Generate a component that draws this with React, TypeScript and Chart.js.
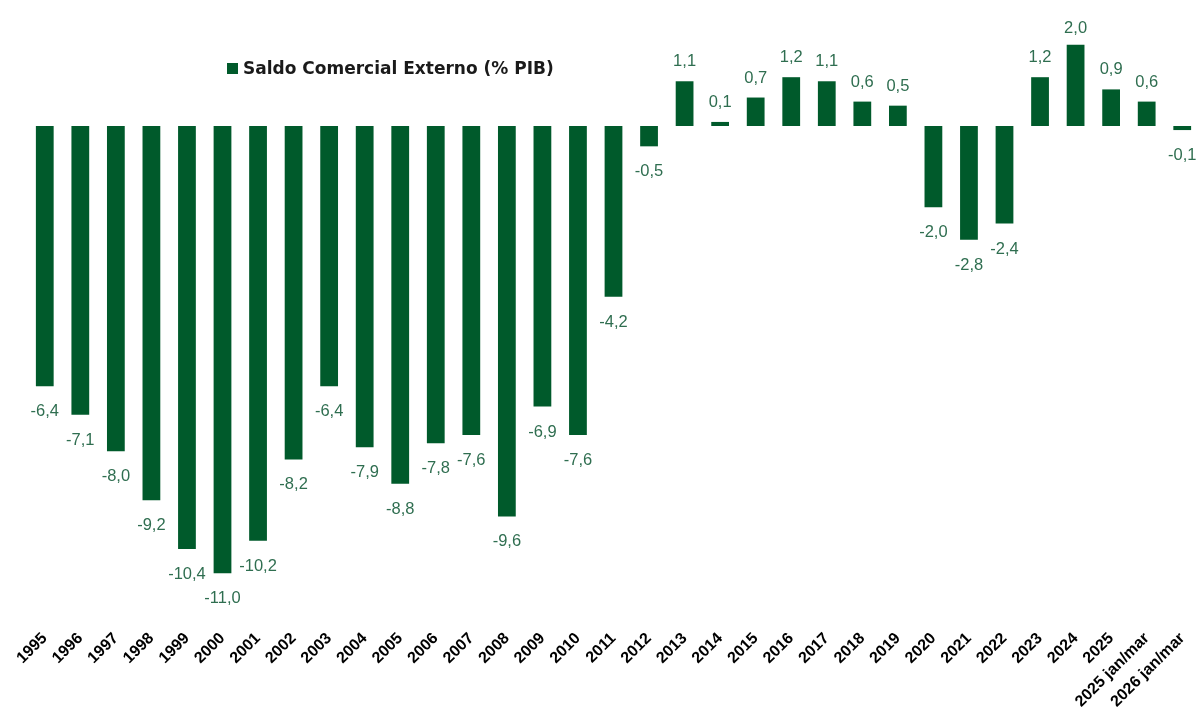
import React, { useEffect, useRef } from "react";
import { Chart, registerables } from "chart.js";

Chart.register(...registerables);

const categories: string[] = [
  "1995", "1996", "1997", "1998", "1999", "2000", "2001", "2002", "2003", "2004",
  "2005", "2006", "2007", "2008", "2009", "2010", "2011", "2012", "2013", "2014",
  "2015", "2016", "2017", "2018", "2019", "2020", "2021", "2022", "2023", "2024",
  "2025", "2025 jan/mar", "2026 jan/mar",
];

const saldoComercial: number[] = [
  -6.4, -7.1, -8.0, -9.2, -10.4, -11.0, -10.2, -8.2, -6.4, -7.9,
  -8.8, -7.8, -7.6, -9.6, -6.9, -7.6, -4.2, -0.5, 1.1, 0.1,
  0.7, 1.2, 1.1, 0.6, 0.5, -2.0, -2.8, -2.4, 1.2, 2.0,
  0.9, 0.6, -0.1,
];

const seriesName = "Saldo Comercial Externo (% PIB)";
const barColor = "#005a2b";
const labelColor = "#2f6e50";

const fmt = (v: number) => v.toFixed(1).replace(".", ",");

const valueLabels = {
  id: "valueLabels",
  afterDatasetsDraw(chart: any) {
    const ctx = chart.ctx;
    const meta = chart.getDatasetMeta(0);
    ctx.save();
    ctx.font = "16.5px 'Liberation Sans', Arial, sans-serif";
    ctx.fillStyle = labelColor;
    ctx.textAlign = "center";
    ctx.textBaseline = "alphabetic";
    meta.data.forEach((bar: any, i: number) => {
      const v = saldoComercial[i];
      const x = bar.x;
      if (v >= 0) {
        ctx.fillText(fmt(v), x, Math.max(bar.y - 15, 33));
      } else {
        ctx.fillText(fmt(v), x, bar.y + 30);
      }
    });
    ctx.restore();
  },
};

const customLegend = {
  id: "customLegend",
  afterDraw(chart: any) {
    const ctx = chart.ctx;
    ctx.save();
    ctx.fillStyle = barColor;
    ctx.fillRect(227, 63, 11, 11);
    ctx.font = "bold 17px 'DejaVu Sans', Verdana, sans-serif";
    ctx.fillStyle = "#1a1a1a";
    ctx.textAlign = "left";
    ctx.textBaseline = "alphabetic";
    ctx.fillText(seriesName, 243, 74);
    ctx.restore();
  },
};

export default function App() {
  const ref = useRef<HTMLCanvasElement | null>(null);

  useEffect(() => {
    if (!ref.current) return;
    const chart = new Chart(ref.current, {
      type: "bar",
      data: {
        labels: categories,
        datasets: [
          {
            label: seriesName,
            data: saldoComercial,
            backgroundColor: barColor,
            borderWidth: 0,
            barPercentage: 0.5,
            categoryPercentage: 1.0,
          },
        ],
      },
      options: {
        animation: false,
        responsive: false,
        maintainAspectRatio: false,
        layout: { padding: { left: 27, right: 1, top: 4, bottom: 0 } },
        plugins: {
          legend: { display: false },
          tooltip: { enabled: false },
        },
        scales: {
          x: {
            grid: { display: false, drawTicks: false },
            border: { display: false },
            ticks: {
              autoSkip: false,
              maxRotation: 45,
              minRotation: 45,
              color: "#000",
              padding: 15,
              font: { family: "'Liberation Sans', Arial, sans-serif", size: 16, weight: "bold" },
            },
            afterFit: (scale: any) => {
              scale.height = 97;
              scale.paddingLeft = 0;
              scale.paddingRight = 0;
            },
          },
          y: {
            display: false,
            min: -12,
            max: 3,
          },
        },
      },
      plugins: [valueLabels, customLegend],
    });
    return () => chart.destroy();
  }, []);

  return (
    <div style={{ position: "fixed", left: 0, top: 0, width: 1201, height: 711, background: "#fff" }}>
      <canvas ref={ref} width={1201} height={711} style={{ width: 1201, height: 711 }} />
    </div>
  );
}
